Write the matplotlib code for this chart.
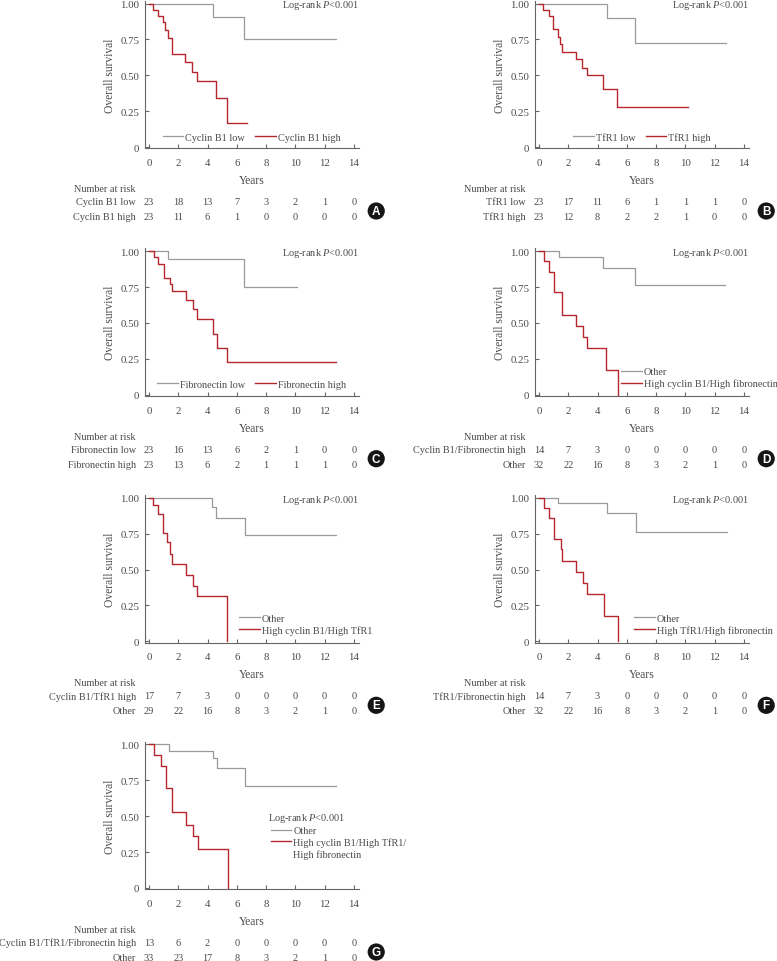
import matplotlib
matplotlib.use("Agg")
import matplotlib.pyplot as plt
from matplotlib.lines import Line2D

plt.rcParams['font.family'] = 'Liberation Serif'
plt.rcParams['mathtext.fontset'] = 'custom'
plt.rcParams['mathtext.rm'] = 'Liberation Serif'
plt.rcParams['mathtext.it'] = 'Liberation Serif:italic'

# ---- data ----
risk_times = [0, 2, 4, 6, 8, 10, 12, 14]

# A: Cyclin B1
a_low_t = [0, 4.4, 6.5, 12.8]
a_low_s = [1.0, 0.909, 0.75, 0.75]
a_high_t = [0, 0.29, 0.64, 0.95, 1.1, 1.3, 1.55, 1.6, 2.43, 2.96, 3.26, 4.55, 5.3, 6.67]
a_high_s = [1.0, 0.957, 0.913, 0.87, 0.815, 0.76, 0.70, 0.65, 0.59, 0.52, 0.46, 0.34, 0.17, 0.17]
a_risk_low = [23, 18, 13, 7, 3, 2, 1, 0]
a_risk_high = [23, 11, 6, 1, 0, 0, 0, 0]

# B: TfR1
b_low_t = [0, 4.62, 6.56, 12.8]
b_low_s = [1.0, 0.90, 0.726, 0.726]
b_high_t = [0, 0.3, 0.68, 0.98, 1.27, 1.43, 1.55, 2.5, 2.96, 3.3, 4.39, 5.3, 10.15]
b_high_s = [1.0, 0.953, 0.914, 0.82, 0.767, 0.72, 0.663, 0.612, 0.551, 0.50, 0.407, 0.279, 0.279]
b_risk_low = [23, 17, 11, 6, 1, 1, 1, 0]
b_risk_high = [23, 12, 8, 2, 2, 1, 0, 0]

# C: Fibronectin
c_low_t = [0, 1.32, 6.51, 10.08]
c_low_s = [1.0, 0.947, 0.752, 0.752]
c_high_t = [0, 0.34, 0.64, 1.05, 1.43, 1.6, 2.5, 3.03, 3.3, 4.39, 4.62, 5.35, 12.8]
c_high_s = [1.0, 0.96, 0.912, 0.815, 0.773, 0.722, 0.66, 0.60, 0.525, 0.426, 0.326, 0.225, 0.225]
c_risk_low = [23, 16, 13, 6, 2, 1, 0, 0]
c_risk_high = [23, 13, 6, 2, 1, 1, 1, 0]

# D: Cyclin B1 / Fibronectin
d_other_t = [0, 1.39, 4.39, 6.56, 12.7]
d_other_s = [1.0, 0.96, 0.884, 0.764, 0.764]
d_high_t = [0, 0.34, 0.68, 1.05, 1.55, 1.6, 2.5, 3.03, 3.26, 4.58, 5.37]
d_high_s = [1.0, 0.929, 0.857, 0.714, 0.643, 0.557, 0.479, 0.40, 0.326, 0.174, 0.0]
d_risk_high = [14, 7, 3, 0, 0, 0, 0, 0]
d_risk_other = [32, 22, 16, 8, 3, 2, 1, 0]

# E: Cyclin B1 / TfR1
e_other_t = [0, 4.32, 4.55, 6.56, 12.8]
e_other_s = [1.0, 0.935, 0.858, 0.742, 0.742]
e_high_t = [0, 0.3, 0.64, 0.98, 1.25, 1.43, 1.55, 2.5, 2.98, 3.26, 5.3]
e_high_s = [1.0, 0.951, 0.884, 0.756, 0.69, 0.609, 0.537, 0.463, 0.388, 0.314, 0.0]
e_risk_high = [17, 7, 3, 0, 0, 0, 0, 0]
e_risk_other = [29, 22, 16, 8, 3, 2, 1, 0]

# F: TfR1 / Fibronectin
f_other_t = [0, 1.32, 4.62, 6.6, 12.86]
f_other_s = [1.0, 0.963, 0.893, 0.765, 0.765]
f_high_t = [0, 0.34, 0.7, 1.05, 1.5, 1.6, 2.53, 3.03, 3.3, 4.46, 5.37]
f_high_s = [1.0, 0.93, 0.858, 0.714, 0.64, 0.558, 0.481, 0.405, 0.328, 0.179, 0.0]
f_risk_high = [14, 7, 3, 0, 0, 0, 0, 0]
f_risk_other = [32, 22, 16, 8, 3, 2, 1, 0]

# G: Cyclin B1 / TfR1 / Fibronectin
g_other_t = [0, 1.39, 4.39, 4.62, 6.56, 12.75]
g_other_s = [1.0, 0.958, 0.905, 0.837, 0.714, 0.714]
g_high_t = [0, 0.34, 0.82, 1.14, 1.55, 1.6, 2.53, 3.03, 3.32, 5.37]
g_high_s = [1.0, 0.93, 0.853, 0.695, 0.609, 0.528, 0.442, 0.36, 0.272, 0.0]
g_risk_high = [13, 6, 2, 0, 0, 0, 0, 0]
g_risk_other = [33, 23, 17, 8, 3, 2, 1, 0]

# ---- style ----
W, H = 777, 962
GRAY = '#9a9a9a'
RED = '#b8262d'
TXT = '#4a4a4a'
SPINE = '#666666'
XLIM = (-0.27, 14.35)
YLIM = (-0.01, 1.02)
PX_YR = 14.64
PX_UNIT = 143.5
FS_TICK = 7.8
FS_TXT = 7.4
FS_LAB = 8.3

fig = plt.figure(figsize=(W / 100, H / 100), dpi=100)


def panel(x0_px, y0_px, gray, red, legend_labels, legend_kw, table, letter,
          logrank_pos=None):
    left = x0_px + XLIM[0] * PX_YR
    width = (XLIM[1] - XLIM[0]) * PX_YR
    top = y0_px - YLIM[1] * PX_UNIT
    height = (YLIM[1] - YLIM[0]) * PX_UNIT
    ax = fig.add_axes([left / W, 1 - (top + height) / H, width / W, height / H])

    ax.step(gray[0], gray[1], where='post', color=GRAY, lw=0.9)
    ax.step(red[0], red[1], where='post', color=RED, lw=1.0)

    ax.set_xlim(*XLIM)
    ax.set_ylim(*YLIM)
    ax.set_xticks(risk_times)
    ax.set_yticks([0, 0.25, 0.5, 0.75, 1.0])
    ax.set_yticklabels(['0', '0.25', '0.50', '0.75', '1.00'])
    for s in ['top', 'right']:
        ax.spines[s].set_visible(False)
    for s in ['left', 'bottom']:
        ax.spines[s].set_color(SPINE)
        ax.spines[s].set_linewidth(0.8)
    ax.tick_params(direction='in', length=3, width=0.8, color=SPINE,
                   labelsize=FS_TICK, labelcolor=TXT)
    ax.tick_params(axis='x', pad=7)
    ax.tick_params(axis='y', pad=4)
    ax.set_xlabel('Years', fontsize=FS_LAB, color=TXT, labelpad=5)
    ax.set_ylabel('Overall survival', fontsize=FS_LAB, color=TXT, labelpad=3)

    # legend
    handles = [Line2D([], [], color=GRAY, lw=0.9), Line2D([], [], color=RED, lw=1.0)]
    if len(legend_labels) == 3:
        handles.append(Line2D([], [], color='none'))
    ax.legend(handles, legend_labels, loc='center left',
              bbox_transform=ax.transData, frameon=False, fontsize=FS_TXT,
              handlelength=2.0, handletextpad=0.2, borderpad=0, borderaxespad=0,
              columnspacing=1.0, labelspacing=0.2, labelcolor=TXT, **legend_kw)

    # log-rank annotation
    if logrank_pos is None:
        ax.text(14.34, 0.99, 'Log-rank $P$<0.001', ha='right', va='center',
                fontsize=FS_TXT, color=TXT)
    else:
        ax.text(logrank_pos[0], logrank_pos[1], 'Log-rank $P$<0.001',
                ha='left', va='center', fontsize=FS_TXT, color=TXT)

    # number at risk table
    ax.text(-0.89, -41.5 / PX_UNIT, 'Number at risk', ha='right', va='center',
            fontsize=FS_TXT, color=TXT, clip_on=False)
    for row, (label, counts) in enumerate(table):
        y = -(54.5 + 15 * row) / PX_UNIT
        ax.text(-0.89, y, label, ha='right', va='center', fontsize=FS_TXT,
                color=TXT, clip_on=False)
        for t, n in zip(risk_times, counts):
            ax.text(t, y, str(n), ha='center', va='center', fontsize=FS_TXT,
                    color=TXT, clip_on=False)

    # panel letter
    ax.text(15.52, -64 / PX_UNIT, letter, ha='center', va='center',
            fontsize=8.5, fontweight='bold', family='Liberation Sans',
            color='white', clip_on=False,
            bbox=dict(boxstyle='circle,pad=0.22', fc='#151515', ec='none'))
    return ax


LX, RX = 149, 539
one_row = lambda x: dict(ncol=2, bbox_to_anchor=(x, 0.068))
two_row = lambda x: dict(ncol=1, bbox_to_anchor=(x, 0.118))

panel(LX, 148, (a_low_t, a_low_s), (a_high_t, a_high_s),
      ['Cyclin B1 low', 'Cyclin B1 high'], one_row(0.94),
      [('Cyclin B1 low', a_risk_low), ('Cyclin B1 high', a_risk_high)], 'A')
panel(RX, 148, (b_low_t, b_low_s), (b_high_t, b_high_s),
      ['TfR1 low', 'TfR1 high'], one_row(2.34),
      [('TfR1 low', b_risk_low), ('TfR1 high', b_risk_high)], 'B')
panel(LX, 395.7, (c_low_t, c_low_s), (c_high_t, c_high_s),
      ['Fibronectin low', 'Fibronectin high'], dict(ncol=2, bbox_to_anchor=(0.55, 0.074)),
      [('Fibronectin low', c_risk_low), ('Fibronectin high', c_risk_high)], 'C')
panel(RX, 395.7, (d_other_t, d_other_s), (d_high_t, d_high_s),
      ['Other', 'High cyclin B1/High fibronectin'], two_row(5.6),
      [('Cyclin B1/Fibronectin high', d_risk_high), ('Other', d_risk_other)], 'D')
panel(LX, 642.3, (e_other_t, e_other_s), (e_high_t, e_high_s),
      ['Other', 'High cyclin B1/High TfR1'], two_row(6.15),
      [('Cyclin B1/TfR1 high', e_risk_high), ('Other', e_risk_other)], 'E')
panel(RX, 642.3, (f_other_t, f_other_s), (f_high_t, f_high_s),
      ['Other', 'High TfR1/High fibronectin'], two_row(6.51),
      [('TfR1/Fibronectin high', f_risk_high), ('Other', f_risk_other)], 'F')
panel(LX, 889, (g_other_t, g_other_s), (g_high_t, g_high_s),
      ['Other', 'High cyclin B1/High TfR1/', 'High fibronectin'],
      dict(ncol=1, bbox_to_anchor=(8.31, 0.318)),
      [('Cyclin B1/TfR1/Fibronectin high', g_risk_high), ('Other', g_risk_other)], 'G',
      logrank_pos=(8.13, 0.488))

fig.savefig('out.png', dpi=100, facecolor='white')
